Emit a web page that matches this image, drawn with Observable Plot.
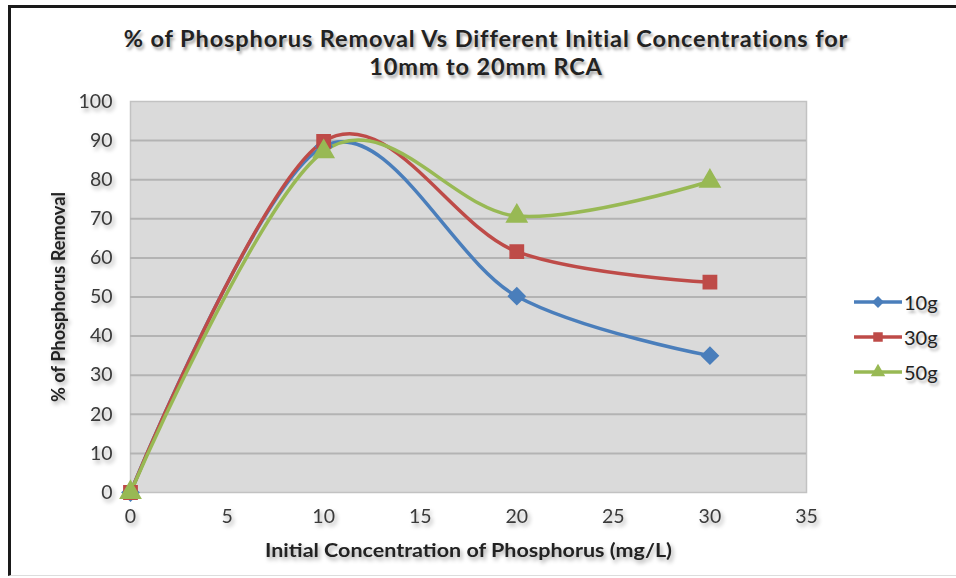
<!DOCTYPE html>
<html>
<head>
<meta charset="utf-8">
<script src="https://cdn.jsdelivr.net/npm/d3@7"></script>
<script src="https://cdn.jsdelivr.net/npm/@observablehq/plot@0.6"></script>
<style>
  html, body { margin: 0; padding: 0; background: #fff; }
  #wrap { position: relative; width: 956px; height: 578px; overflow: hidden; background: #fff; font-family: Lato, "Open Sans", sans-serif; }
  #frame { position: absolute; left: 8px; top: 5px; width: 960px; height: 571px; border-top: 3px solid #1a1a1a; border-left: 3px solid #1a1a1a; border-bottom: 1px solid #ddd; box-sizing: border-box; }
  #title { position: absolute; left: 0; width: 972px; top: 24px; text-align: center; font-weight: 700; font-size: 23.5px; letter-spacing: 0.9px; line-height: 28px; color: #222; text-shadow: 2px 3px 3px rgba(0,0,0,0.35); }
  #chart { position: absolute; left: 0; top: 0; }
  #legend { position: absolute; left: 853px; top: 284px; font-size: 20px; color: #222; }
  .li { display: flex; align-items: center; height: 35px; text-shadow: 2px 3px 3px rgba(0,0,0,0.3); }
  .li svg { margin-right: 1px; }
  #chart svg g[aria-label="x-axis tick label"], #chart svg g[aria-label="y-axis tick label"], #chart svg g[aria-label="x-axis label"], #chart svg g[aria-label="y-axis label"] { filter: drop-shadow(2px 3px 2px rgba(0,0,0,0.35)); }
</style>
</head>
<body>
<div id="wrap">
  <div id="frame"></div>
  <div id="chart"></div>
  <div id="title">% of Phosphorus Removal Vs Different Initial Concentrations for<br>10mm to 20mm RCA</div>
  <div id="legend"></div>
</div>
<script>
// Data
const concentration = [0, 10, 20, 30];
const removal10g = [0, 88.5, 50.2, 35.0];
const removal30g = [0, 89.8, 61.6, 53.8];
const removal50g = [0, 87.2, 70.7, 79.6];
const seriesNames = ["10g", "30g", "50g"];
const seriesColors = ["#4a7ebb", "#be4b48", "#98b954"];
const seriesSymbols = ["diamond2", "square", "triangle"];
const xTicks = [0, 5, 10, 15, 20, 25, 30, 35];
const yTicks = [0, 10, 20, 30, 40, 50, 60, 70, 80, 90, 100];
const xLabel = "Initial Concentration of Phosphorus (mg/L)";
const yLabel = "% of Phosphorus Removal";

const allSeries = [removal10g, removal30g, removal50g];
const rows = [];
seriesNames.forEach((name, i) => {
  concentration.forEach((c, j) => rows.push({series: name, x: c, y: allSeries[i][j]}));
});

const plot = Plot.plot({
  width: 956,
  height: 578,
  marginLeft: 130,
  marginRight: 150,
  marginTop: 101,
  marginBottom: 86,
  style: {fontFamily: "Lato, 'Open Sans', sans-serif", fontSize: "20px", color: "#333", background: "transparent", overflow: "visible"},
  x: {domain: [0, 35], ticks: xTicks},
  y: {domain: [0, 100], ticks: yTicks},
  color: {domain: seriesNames, range: seriesColors},
  symbol: {domain: seriesNames, range: seriesSymbols},
  marks: [
    Plot.frame({fill: "#dadada", stroke: "#c2c2c2", strokeWidth: 1.5}),
    Plot.gridY(yTicks.filter(d => d > 0 && d < 100), {stroke: "#b3b3b3", strokeOpacity: 1, strokeWidth: 2}),
    Plot.axisX({ticks: xTicks, tickSize: 0, tickPadding: 17, fontSize: 19.5, label: xLabel, labelArrow: false, labelAnchor: "center", labelOffset: 64, fill: "#3a3a3a"}),
    Plot.axisY({ticks: yTicks, tickSize: 0, tickPadding: 18, fontSize: 19.5, label: yLabel, labelArrow: false, labelAnchor: "center", labelOffset: 78, fill: "#3a3a3a"}),
    Plot.line(rows, {x: "x", y: "y", z: "series", stroke: "series", curve: "cardinal", strokeWidth: 3.5}),
    Plot.dot(rows, {x: "x", y: "y", symbol: "series", fill: "series", stroke: "series", r: 7.5})
  ]
});

// Axis label styling (bold, darker, condensed like the original)
d3.select(plot).selectAll('g[aria-label="x-axis label"] text')
  .attr("font-weight", 700).attr("fill", "#222").attr("font-size", 19)
  .attr("textLength", 407).attr("lengthAdjust", "spacingAndGlyphs")
  .text(xLabel);
d3.select(plot).selectAll('g[aria-label="y-axis label"] text')
  .attr("font-weight", 700).attr("fill", "#222").attr("font-size", 18)
  .attr("textLength", 210).attr("lengthAdjust", "spacingAndGlyphs")
  .text(yLabel);
d3.select(plot).select('g[aria-label="frame"]').style("filter", "drop-shadow(4px 3px 3px rgba(0,0,0,0.45))");
document.getElementById("chart").appendChild(plot);

// Legend
const legendSymbols = [d3.symbolDiamond2 || d3.symbolDiamond, d3.symbolSquare, d3.symbolTriangle];
const legend = d3.select("#legend");
seriesNames.forEach((name, i) => {
  const item = legend.append("div").attr("class", "li");
  const sv = item.append("svg").attr("width", 50).attr("height", 20);
  sv.append("line").attr("x1", 1).attr("x2", 49).attr("y1", 10).attr("y2", 10)
    .attr("stroke", seriesColors[i]).attr("stroke-width", 3.5);
  sv.append("path").attr("transform", "translate(25,10)")
    .attr("d", d3.symbol(legendSymbols[i], 90)())
    .attr("fill", seriesColors[i]);
  item.append("span").text(name);
});
</script>
</body>
</html>
